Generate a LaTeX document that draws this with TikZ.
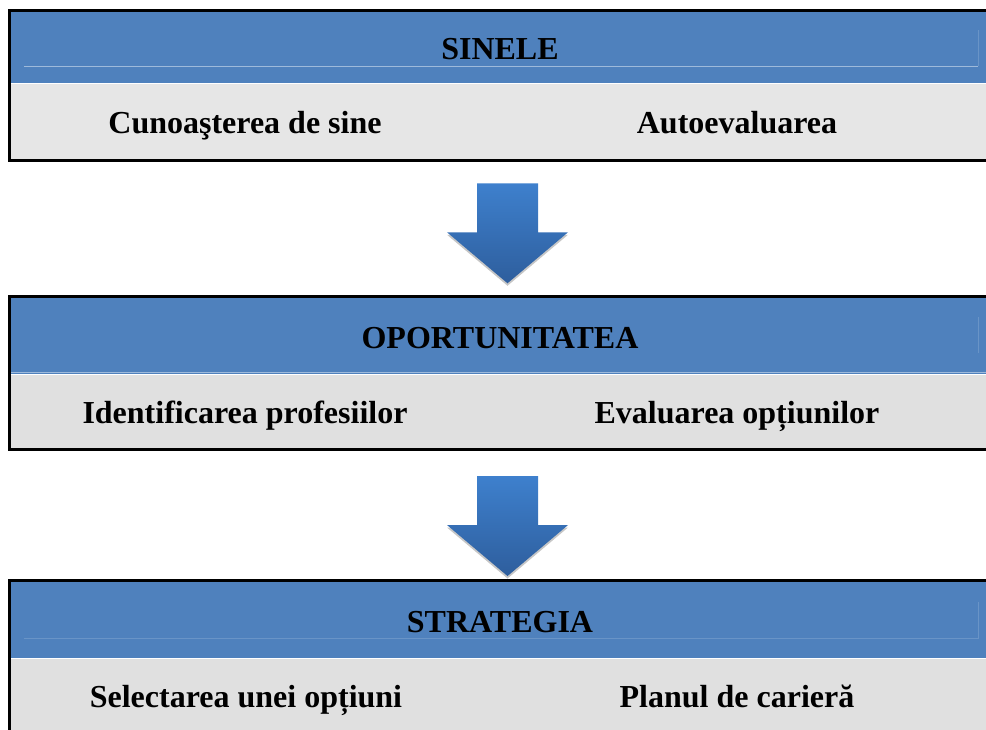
\documentclass[tikz,border=0pt]{standalone}
\usepackage{fontspec}
\setmainfont{Liberation Serif}
\usetikzlibrary{positioning,calc}

\definecolor{headblue}{HTML}{4F81BD}
\definecolor{bodygray}{HTML}{E0E0E0}
\definecolor{bodygraylight}{HTML}{E6E6E6}
\definecolor{arrowtop}{HTML}{3E80CD}
\definecolor{arrowbottom}{HTML}{2E5E9D}

\tikzset{
  header/.style={rectangle,fill=headblue,minimum width=735.75pt,inner sep=0pt,text height=19.7pt,text depth=0pt,font=\fontsize{24}{28}\selectfont\bfseries},
  body/.style={rectangle,fill=bodygray,minimum width=735.75pt,inner sep=0pt},
  item/.style={anchor=base,inner sep=0pt,font=\fontsize{24}{28}\selectfont\bfseries},
  frame/.style={draw=black,line width=2.25pt},
  rule/.style={draw=headblue!55!white,line width=0.75pt},
  faintrule/.style={draw=headblue!85!white,line width=0.75pt},
  downarrow/.pic={
    \fill[gray!45] (-60.5,6.5) -- (0,57.5) -- (60.5,6.5) -- cycle;
    \path[top color=arrowtop,bottom color=arrowbottom] (-30.5,-45) -- (30.5,-45) -- (30.5,4) -- (60.5,4) -- (0,55) -- (-60.5,4) -- (-30.5,4) -- cycle;
  }
}

\begin{document}
\begin{tikzpicture}[x=0.75pt,y=-0.75pt]
 \useasboundingbox (0,0) rectangle (986,729);
 \clip (0,0) rectangle (986,729);

 % sinele
 \node[header,minimum height=54.375pt] (sinele) at (500,46.75) {SINELE};
 \node[body,fill=bodygraylight,minimum height=57.375pt] (sinelebody) [below=0pt of sinele] {};
 \node[item] (cunoastere) at (245,133) {Cunoaşterea de sine};
 \node[item] (autoevaluare) at (737,133) {Autoevaluarea};
 \draw[rule] (24,66) -- (978,66);
 \draw[faintrule] (978,66) -- (978,30);
 \draw[frame] (sinele.north west) rectangle (sinelebody.south east);

 % oportunitatea
 \node[header,minimum height=58.125pt] (oport) at (500,335.25) {OPORTUNITATEA};
 \node[body,minimum height=55.875pt] (oportbody) [below=0pt of oport] {};
 \node[item] (identificare) at (245,423) {Identificarea profesiilor};
 \node[item] (evaluare) at (737,423) {Evaluarea opțiunilor};
 \draw[rule] (11,372) -- (986,372);
 \draw[faintrule] (978,317) -- (978,353);
 \draw[frame] (oport.north west) rectangle (oportbody.south east);

 % strategia
 \node[header,minimum height=57.75pt] (strategia) at (500,619.5) {STRATEGIA};
 \node[body,minimum height=61.5pt] (strategiabody) [below=0pt of strategia] {};
 \node[item] (selectare) at (246,707) {Selectarea unei opțiuni};
 \node[item] (plan) at (737,707) {Planul de carieră};
 \draw[faintrule] (24,638) -- (978,638) -- (978,602);
 \draw[frame] (strategia.north west) rectangle (strategiabody.south east);

 % sageti
 \pic at ($(sinelebody.south)!.5!(oport.north)+(7.5,0)$) {downarrow};
 \pic at ($(oportbody.south)!.5!(strategia.north)+(7.5,6)$) {downarrow};
\end{tikzpicture}
\end{document}
